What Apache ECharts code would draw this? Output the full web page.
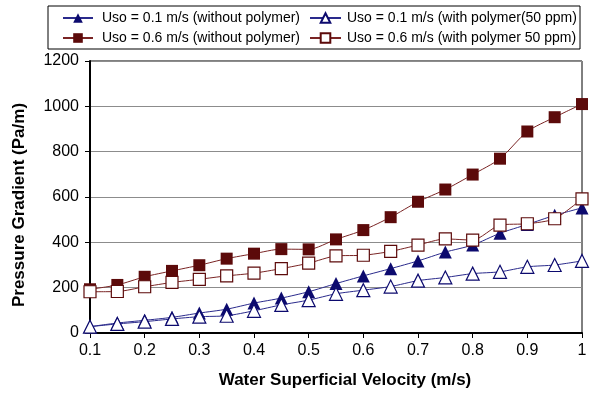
<!DOCTYPE html>
<html>
<head>
<meta charset="utf-8">
<script src="https://cdn.jsdelivr.net/npm/echarts@6/dist/echarts.min.js"></script>
<style>
  html, body { margin: 0; padding: 0; background: #fff; }
  #chart { width: 590px; height: 395px; }
</style>
</head>
<body>
<div id="chart"></div>
<script>
// water superficial velocity (m/s)
const velocity = [0.1, 0.15, 0.2, 0.25, 0.3, 0.35, 0.4, 0.45, 0.5, 0.55, 0.6, 0.65, 0.7, 0.75, 0.8, 0.85, 0.9, 0.95, 1.0];
// pressure gradient (Pa/m)
const uso01NoPolymer = [28, 44, 56, 69, 88, 105, 132, 154, 182, 218, 252, 284, 318, 357, 388, 440, 479, 519, 552];
const uso01Polymer = [28, 40, 50, 62, 72, 76, 98, 124, 145, 173, 189, 205, 231, 245, 262, 270, 292, 300, 318];
const uso06NoPolymer = [193, 212, 248, 274, 299, 328, 350, 370, 369, 413, 454, 511, 579, 633, 699, 769, 889, 952, 1010];
const uso06Polymer = [182, 183, 204, 223, 237, 252, 264, 284, 308, 340, 343, 360, 388, 415, 410, 476, 482, 504, 592];
const seriesNames = [
  'Uso = 0.1 m/s (without polymer)',
  'Uso = 0.1 m/s (with polymer(50 ppm)',
  'Uso = 0.6 m/s (without polymer)',
  'Uso = 0.6 m/s (with polymer 50 ppm)'
];

const navy = '#0c0a6e';
const maroon = '#5c0a0a';
const font = 'Liberation Sans, Arial, sans-serif';

const chart = echarts.init(document.getElementById('chart'));

function pairs(ys) {
  return velocity.map((x, i) => [x, ys[i]]);
}

function makeSeries(name, ys, color, lineColor, symbol, size, open) {
  return {
    name: name,
    type: 'line',
    data: pairs(ys),
    symbol: symbol,
    symbolSize: size,
    smooth: 0.25,
    showAllSymbol: true,
    lineStyle: { color: lineColor, width: 1 },
    itemStyle: open
      ? { color: '#fff', borderColor: color, borderWidth: 1.2 }
      : { color: color, borderColor: color, borderWidth: 0 },
    animation: false
  };
}

const legendText = { fontFamily: font, fontSize: 14, color: '#000', lineHeight: 16, padding: [0, 0, 0, 4] };

const option = {
  backgroundColor: '#fff',
  grid: {
    left: 90, right: 8, top: 61, bottom: 62,
    show: true, borderColor: '#000', borderWidth: 1
  },
  legend: [
    {
      data: [seriesNames[0], seriesNames[2]],
      orient: 'vertical', left: 57, top: 5,
      itemWidth: 30, itemHeight: 12, itemGap: 4,
      textStyle: legendText, selectedMode: false
    },
    {
      data: [seriesNames[1], seriesNames[3]],
      orient: 'vertical', left: 304, top: 5,
      itemWidth: 31, itemHeight: 12, itemGap: 4,
      textStyle: Object.assign({}, legendText, { padding: [0, 0, 0, 1] }), selectedMode: false
    }
  ],
  graphic: [{
    type: 'rect',
    shape: { x: 48, y: 6, width: 532, height: 43 },
    style: { fill: 'none', stroke: '#000', lineWidth: 1 },
    z: 100
  }],
  xAxis: {
    type: 'value',
    min: 0.1, max: 1, interval: 0.1,
    name: 'Water Superficial Velocity (m/s)',
    nameLocation: 'middle', nameGap: 39,
    nameTextStyle: { fontFamily: font, fontSize: 17, fontWeight: 'bold', color: '#000', padding: [0, 0, 0, 18] },
    axisLine: { show: true, onZero: false, lineStyle: { color: '#000', width: 2 } },
    axisTick: { show: true, length: 5, lineStyle: { color: '#000', width: 1 } },
    axisLabel: {
      fontFamily: font, fontSize: 16, color: '#000', margin: 10,
      formatter: v => String(Math.round(v * 10) / 10)
    },
    splitLine: { show: false }
  },
  yAxis: {
    type: 'value',
    min: 0, max: 1200, interval: 200,
    name: 'Pressure Gradient (Pa/m)',
    nameLocation: 'middle', nameGap: 62,
    nameTextStyle: { fontFamily: font, fontSize: 17, fontWeight: 'bold', color: '#000', padding: [0, 16, 0, 0] },
    axisLine: { show: true, lineStyle: { color: '#000', width: 2 } },
    axisTick: { show: true, length: 5, lineStyle: { color: '#000', width: 1 } },
    axisLabel: { fontFamily: font, fontSize: 16, color: '#000', margin: 11, formatter: v => String(v) },
    splitLine: { show: true, lineStyle: { color: '#8c8c8c', width: 1 } }
  },
  series: [
    makeSeries(seriesNames[0], uso01NoPolymer, navy, '#2a2a8c', 'triangle', 13, false),
    makeSeries(seriesNames[1], uso01Polymer, navy, '#2a2a8c', 'triangle', 13, true),
    makeSeries(seriesNames[2], uso06NoPolymer, maroon, '#7a2424', 'rect', 12, false),
    makeSeries(seriesNames[3], uso06Polymer, maroon, '#7a2424', 'rect', 12, true)
  ]
};

chart.setOption(option);
</script>
</body>
</html>
